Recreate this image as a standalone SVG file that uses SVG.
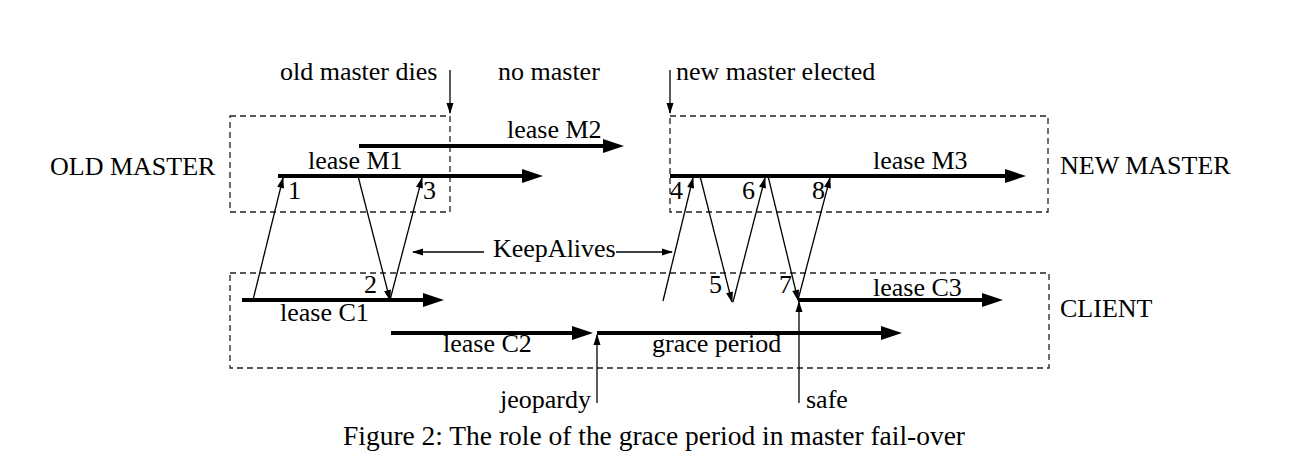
<svg xmlns="http://www.w3.org/2000/svg" width="1304" height="476" viewBox="0 0 1304 476">
<style>
text{font-family:"Liberation Serif","Times New Roman",serif;font-size:26px;fill:#000}
.cap{font-size:28px}
.box{fill:none;stroke:#222;stroke-width:1.3;stroke-dasharray:6,4}
.lease{stroke:#000;stroke-width:4;fill:none;marker-end:url(#big)}
.msg{stroke:#000;stroke-width:1.3;fill:none;marker-end:url(#small)}
</style>
<defs>
<marker id="big" markerUnits="userSpaceOnUse" markerWidth="22" markerHeight="14" refX="11" refY="7" orient="auto" overflow="visible">
<path d="M0,0 L21,7 L0,14 z" fill="#000"/>
</marker>
<marker id="small" markerUnits="userSpaceOnUse" markerWidth="11" markerHeight="7" refX="10" refY="3.5" orient="auto" overflow="visible">
<path d="M0,0 L11,3.5 L0,7 z" fill="#000"/>
</marker>
</defs>
<rect width="1304" height="476" fill="#fff"/>

<g id="old-master">
<rect class="box" x="230" y="116" width="220" height="96"/>
<text x="50" y="175">OLD MASTER</text>
</g>
<g id="new-master">
<rect class="box" x="670" y="116" width="378" height="96"/>
<text x="1060" y="174">NEW MASTER</text>
</g>
<g id="client">
<rect class="box" x="230" y="273" width="819" height="95"/>
<text x="1060" y="317">CLIENT</text>
</g>

<g id="connectors">
<line class="lease" x1="278" y1="176" x2="533" y2="176"/>
<line class="lease" x1="359" y1="146" x2="614" y2="146"/>
<line class="lease" x1="670" y1="176" x2="1016" y2="176"/>
<line class="lease" x1="242" y1="300" x2="434" y2="300"/>
<line class="lease" x1="391" y1="333" x2="583" y2="333"/>
<line class="lease" x1="597" y1="333" x2="892" y2="333"/>
<line class="lease" x1="798" y1="300" x2="993" y2="300"/>

<line class="msg" x1="253" y1="300" x2="283" y2="178"/>
<line class="msg" x1="358" y1="176" x2="390" y2="300"/>
<line class="msg" x1="390" y1="300" x2="422" y2="178"/>
<line class="msg" x1="663" y1="301" x2="693" y2="178"/>
<line class="msg" x1="700" y1="176" x2="732" y2="302"/>
<line class="msg" x1="733" y1="302" x2="765" y2="178"/>
<line class="msg" x1="768" y1="176" x2="798" y2="300"/>
<line class="msg" x1="798" y1="300" x2="830" y2="178"/>

<line class="msg" x1="450" y1="70" x2="450" y2="113"/>
<line class="msg" x1="670" y1="70" x2="670" y2="113"/>
<line class="msg" x1="597" y1="403" x2="597" y2="335"/>
<line class="msg" x1="799" y1="403" x2="799" y2="302"/>
<line class="msg" x1="484" y1="252" x2="413" y2="252"/>
<line class="msg" x1="616" y1="252" x2="672" y2="252"/>
</g>

<g id="labels">
<text x="280" y="80">old master dies</text>
<text x="498" y="80">no master</text>
<text x="676" y="80">new master elected</text>
<text x="507" y="138">lease M2</text>
<text x="308" y="169">lease M1</text>
<text x="288" y="199">1</text>
<text x="423" y="199">3</text>
<text x="873" y="169">lease M3</text>
<text x="670" y="199">4</text>
<text x="742" y="199">6</text>
<text x="812" y="199">8</text>
<text x="493" y="257">KeepAlives</text>
<text x="364" y="293">2</text>
<text x="709" y="293">5</text>
<text x="779" y="293">7</text>
<text x="280" y="321">lease C1</text>
<text x="443" y="352">lease C2</text>
<text x="873" y="296">lease C3</text>
<text x="652" y="352">grace period</text>
<text x="500" y="408">jeopardy</text>
<text x="806" y="408">safe</text>
<text class="cap" x="343" y="445" textLength="622" lengthAdjust="spacingAndGlyphs">Figure 2: The role of the grace period in master fail-over</text>
</g>
</svg>
